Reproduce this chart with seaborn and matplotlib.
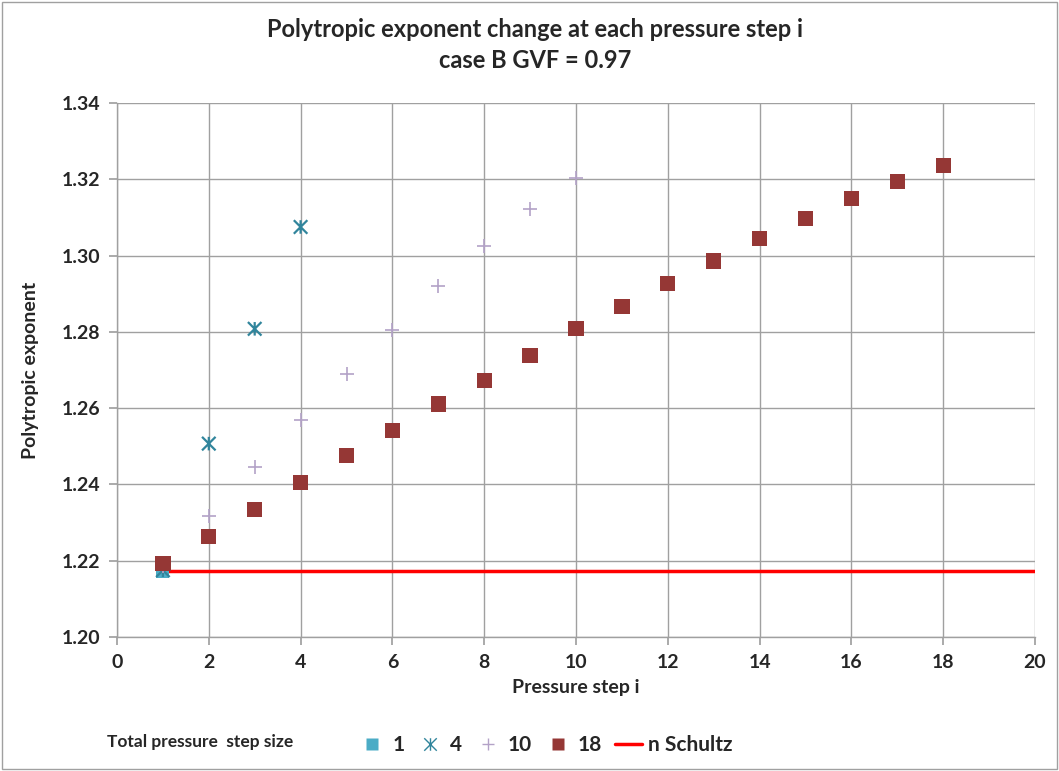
import numpy as np
import pandas as pd
import matplotlib
matplotlib.use("Agg")
import matplotlib.pyplot as plt
from matplotlib.path import Path
from matplotlib.lines import Line2D
import seaborn as sns

# ---- data ----
steps_1 = [1]
n_1 = [1.2171]
steps_4 = [1, 2, 3, 4]
n_4 = [1.2175, 1.2507, 1.2808, 1.3075]
steps_10 = [1, 2, 3, 4, 5, 6, 7, 8, 9, 10]
n_10 = [1.2185, 1.2318, 1.2446, 1.2570, 1.2690, 1.2806, 1.2919, 1.3024, 1.3121, 1.3203]
steps_18 = list(range(1, 19))
n_18 = [1.2192, 1.2263, 1.2334, 1.2405, 1.2476, 1.2541, 1.2611, 1.2672, 1.2738,
        1.2808, 1.2866, 1.2926, 1.2986, 1.3044, 1.3097, 1.3150, 1.3195, 1.3237]
schultz_x = [1, 20]
schultz_n = [1.2174, 1.2174]
series_labels = ["1", "4", "10", "18", "n Schultz"]

sns.set_theme(style="white")
plt.rcParams['font.family'] = ['Lato', 'DejaVu Sans']

fig = plt.figure(figsize=(10.59, 7.71), dpi=100)
W, H = 1059, 771
ax = fig.add_axes([117 / W, 1 - 637 / H, (1035 - 117) / W, (637 - 103) / H])

star = Path([(-1, -1), (1, 1), (-1, 1), (1, -1), (0, -1), (0, 1)],
            [Path.MOVETO, Path.LINETO, Path.MOVETO, Path.LINETO, Path.MOVETO, Path.LINETO])

c1, c4, c10, c18 = "#4BACC6", "#31859C", "#B3A2C7", "#953735"

sns.lineplot(x=schultz_x, y=schultz_n, ax=ax, color="#FF0000", lw=2.5, zorder=2)
sns.scatterplot(x=steps_1, y=n_1, ax=ax, marker="s", s=90, color=c1, edgecolor="none", zorder=3)
sns.scatterplot(x=steps_4, y=n_4, ax=ax, marker=star, s=95, facecolor="none",
                edgecolor=c4, linewidth=1.6, zorder=3)
sns.scatterplot(x=steps_10, y=n_10, ax=ax, marker="+", s=90, color=c10, linewidth=1.2, zorder=3)
sns.scatterplot(x=steps_18, y=n_18, ax=ax, marker="s", s=120, color=c18, edgecolor="none", zorder=4)

ax.set_xlim(0, 20)
ax.set_ylim(1.20, 1.34)
ax.set_xticks(range(0, 21, 2))
ax.set_yticks(np.arange(1.20, 1.3401, 0.02))
ax.set_yticklabels([f"{v:.2f}" for v in np.arange(1.20, 1.3401, 0.02)])
ax.grid(True, color="#A0A0A0", lw=1)
ax.set_axisbelow(True)
for s in ["top", "right"]:
    ax.spines[s].set_visible(False)
for s in ["left", "bottom"]:
    ax.spines[s].set_color("#A0A0A0")
    ax.spines[s].set_linewidth(1)
ax.tick_params(axis="both", which="major", length=6, color="#A0A0A0", direction="out",
               labelsize=14, pad=6, left=True, bottom=True)
for lab in ax.get_xticklabels() + ax.get_yticklabels():
    lab.set_fontweight("bold")

ax.set_xlabel("Pressure step i", fontsize=14, fontweight="bold", labelpad=6)
ax.set_ylabel("Polytropic exponent", fontsize=14, fontweight="bold", labelpad=16)

fig.text(535 / W, 1 - 45 / H, "Polytropic exponent change at each pressure step i\ncase B GVF = 0.97",
         ha="center", va="center", fontsize=17, fontweight="bold", linespacing=1.4)

fig.text(107 / W, 1 - 742 / H, "Total pressure  step size", ha="left", va="center",
         fontsize=12.5, fontweight="bold")

handles = [
    Line2D([], [], ls="none", marker="s", ms=8, color=c1, mec="none"),
    Line2D([], [], ls="none", marker=star, ms=9, color=c4, mew=1.0, mfc="none"),
    Line2D([], [], ls="none", marker="+", ms=9, color=c10, mew=1.0),
    Line2D([], [], ls="none", marker="s", ms=9, color=c18, mec="none"),
    Line2D([], [], color="#FF0000", lw=2.5),
]
leg = fig.legend(handles, series_labels, loc="center left", bbox_to_anchor=(340 / W, 1 - 745 / H),
                 ncol=5, frameon=False, prop={"size": 15, "weight": "bold"},
                 handlelength=1.3, handletextpad=0.3, columnspacing=0.6)

border = plt.Rectangle((0.002, 0.002), 0.996, 0.996, transform=fig.transFigure,
                       fill=False, ec="#A0A0A0", lw=1)
fig.patches.append(border)

fig.savefig("out.png", dpi=100, facecolor="white")
